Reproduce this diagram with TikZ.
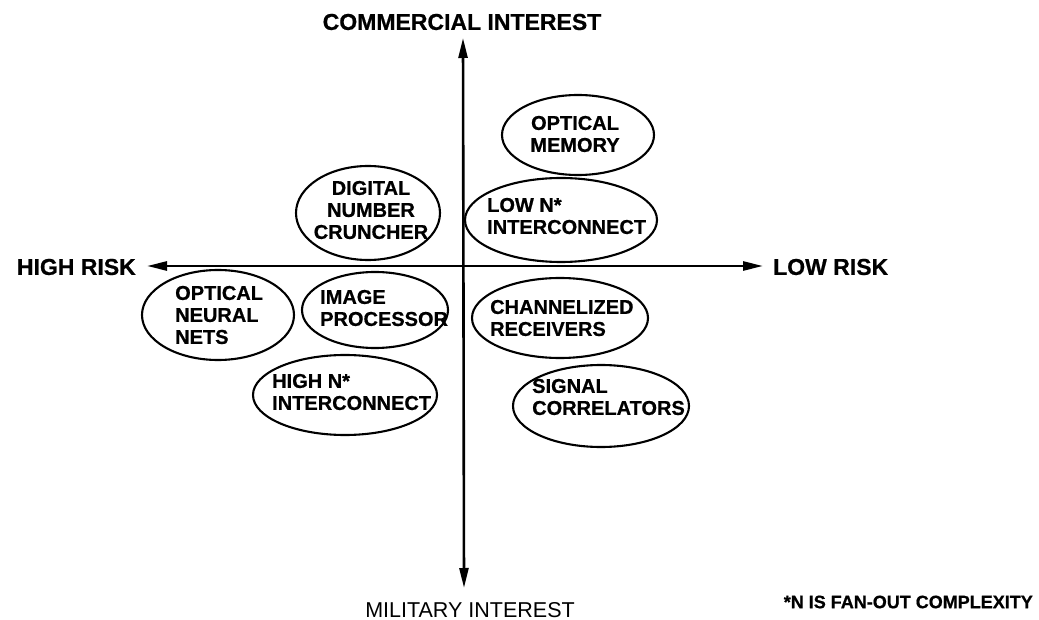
\documentclass[tikz,border=0pt]{standalone}
\usepackage{fontspec}
\setmainfont{Liberation Sans}[BoldFeatures={FakeBold=0.7}]
\usetikzlibrary{arrows.meta,shapes.geometric}
\tikzset{
  axisline/.style={line width=2.6pt,{Triangle[length=20pt,width=9pt]}-{Triangle[length=20pt,width=9pt]}},
  axlabel/.style={font=\bfseries\fontsize{23}{27}\selectfont, inner sep=0pt},
  bubble/.style={draw, ellipse, line width=2.1pt, inner sep=0pt},
  bubtext/.style={align=left, font=\bfseries\fontsize{20}{22}\selectfont, inner sep=0pt},
}
\begin{document}
\begin{tikzpicture}[x=1pt,y=-1pt]
\useasboundingbox (0,0) rectangle (1039,620);
% axes
\coordinate (top) at (463,38);
\coordinate (bot) at (464,588);
\coordinate (lft) at (147,266);
\coordinate (rgt) at (763,266);
\draw[axisline] (bot) -- (top);
\draw[axisline] (lft) -- (rgt);
% axis labels
\node[axlabel] (ci) at (462,22) {COMMERCIAL INTEREST};
\node[axlabel, anchor=east] (hr) at (136,267) {HIGH RISK};
\node[axlabel, anchor=west] (lr) at (773,267) {LOW RISK};
\node[font=\fontsize{21.5}{25}\selectfont, inner sep=0pt] (mi) at (470,610) {MILITARY INTEREST};
\node[font=\bfseries\fontsize{18}{22}\selectfont, inner sep=0pt, anchor=east] (fn) at (1033,602) {*N IS FAN-OUT COMPLEXITY};
% bubbles
\node[bubble, minimum width=152pt, minimum height=80pt] (om) at (578,135) {};
\node[bubtext, align=center] at (575,134) {OPTICAL\\MEMORY};
\node[bubble, minimum width=192pt, minimum height=84pt] (lown) at (561,220) {};
\node[bubtext, anchor=west] at (487,216) {LOW N*\\INTERCONNECT};
\node[bubble, minimum width=144pt, minimum height=94pt] (dnc) at (368,213) {};
\node[bubtext, align=center] at (371,210) {DIGITAL\\NUMBER\\CRUNCHER};
\node[bubble, minimum width=152pt, minimum height=90pt] (onn) at (218,315) {};
\node[bubtext, anchor=west] at (175,315) {OPTICAL\\NEURAL\\NETS};
\node[bubble, minimum width=146pt, minimum height=76pt] (ip) at (375,310) {};
\node[bubtext, anchor=west] at (320,308) {IMAGE\\PROCESSOR};
\node[bubble, minimum width=184pt, minimum height=80pt] (hn) at (345,395) {};
\node[bubtext, anchor=west] at (272,392) {HIGH N*\\INTERCONNECT};
\node[bubble, minimum width=176pt, minimum height=80pt] (cr) at (560,318) {};
\node[bubtext, anchor=west] at (490,318) {CHANNELIZED\\RECEIVERS};
\node[bubble, minimum width=176pt, minimum height=82pt] (sc) at (601,406) {};
\node[bubtext, anchor=west] at (532,397) {SIGNAL\\CORRELATORS};
\end{tikzpicture}
\end{document}
